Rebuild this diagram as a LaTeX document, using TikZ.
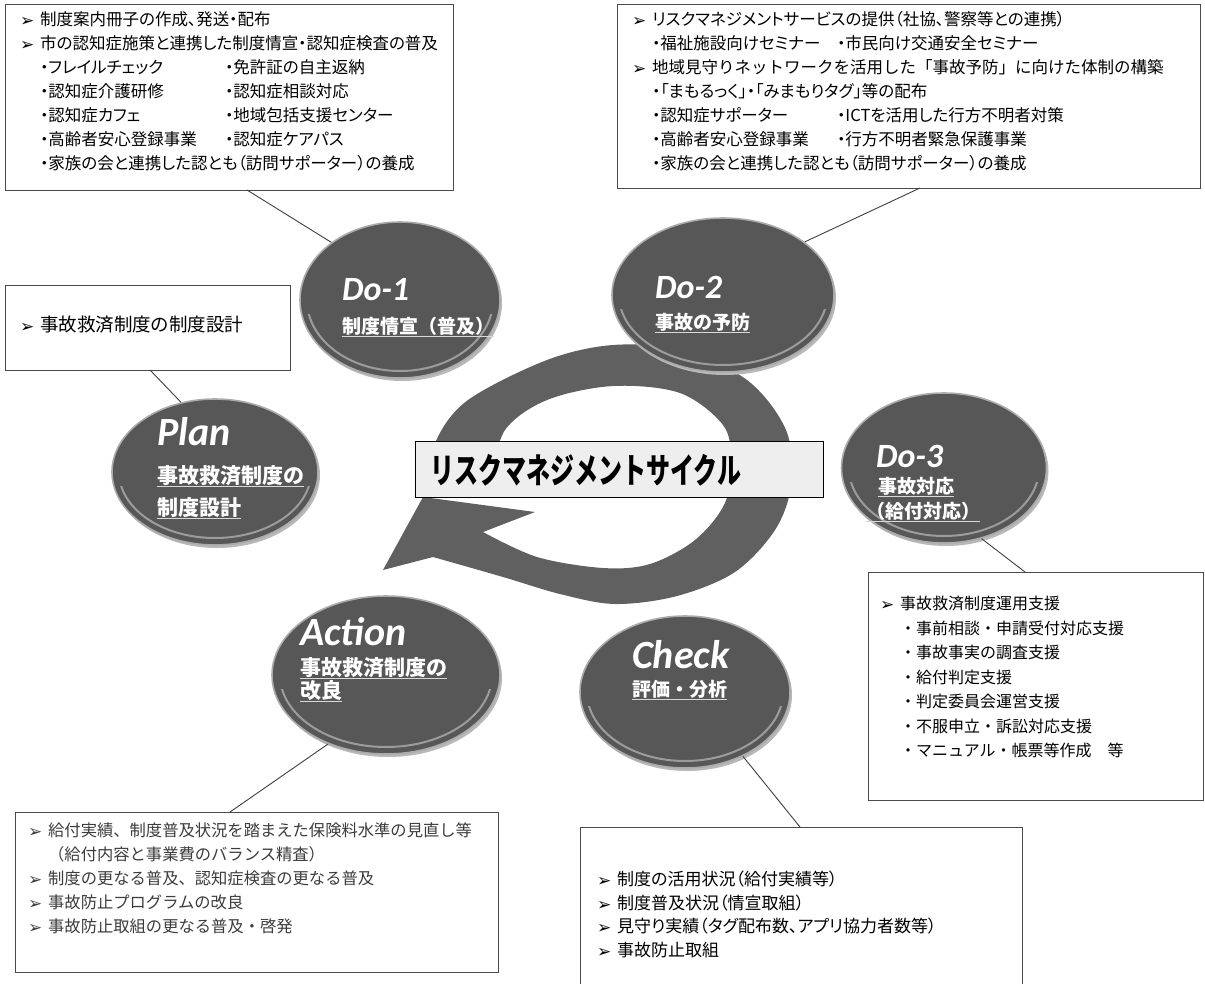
\documentclass[tikz,border=0pt]{standalone}
\usepackage{graphicx}
\usepackage{fontspec}
\setmainfont{Noto Sans CJK JP}[RawFeature=+palt]
\newfontfamily\jpfw{Noto Sans CJK JP}
\newfontfamily\latlab{Carlito}
\newfontfamily\dejavu{DejaVu Sans}
\usetikzlibrary{shapes.geometric,calc}
\definecolor{ellfill}{HTML}{575757}
\definecolor{ellrim}{HTML}{ABABAB}
\definecolor{ringfill}{HTML}{606060}
\definecolor{boxline}{HTML}{4A4A4A}
\definecolor{labelfill}{HTML}{EEEEEE}
\definecolor{fadedtext}{HTML}{3C3C3C}
\definecolor{glintcol}{HTML}{9C9C9C}
\newcommand{\mk}{\makebox[20pt][l]{\raisebox{-1pt}{\dejavu\fontsize{17}{17}\selectfont ➢}}}
\newcommand{\ind}{\hspace*{20pt}}
\newcommand{\glint}[3]{\begin{scope}\clip ($(#1.west)+(-3,14)$) rectangle ($(#1.south -| #1.east)+(3,4)$);
  \draw[glintline] (#1.center) ellipse [x radius=#2, y radius=#3];\end{scope}}
\begin{document}
\begin{tikzpicture}[x=1pt,y=-1pt,
  stage/.style={ellipse, fill=ellfill, draw=ellrim, line width=1.6pt, inner sep=0pt,
     preaction={fill=black!28, transform canvas={xshift=2pt,yshift=-3pt}}},
  glintline/.style={draw=glintcol, line width=2pt},
  infobox/.style={rectangle, draw=boxline, line width=1.2pt, fill=white, anchor=north west, inner sep=0pt},
  boxtext/.style={anchor=north west, inner sep=0pt, align=left, font=\fontsize{16.5}{24}\selectfont},
  stagelat/.style={anchor=base west, inner sep=0pt, text=white, font=\latlab\bfseries\itshape\fontsize{34}{34}\selectfont},
  stagebig/.style={stagelat, font=\latlab\bfseries\itshape\fontsize{40}{40}\selectfont},
  stagejp/.style={anchor=base west, inner sep=0pt, text=white, font=\jpfw\bfseries\fontsize{19}{19}\selectfont},
  stagejpbig/.style={stagejp, font=\jpfw\bfseries\fontsize{21}{21}\selectfont},
  link/.style={draw=black!75, line width=0.9pt},
  uline/.style={draw=white!85!black, line width=1pt}
]
\useasboundingbox (0,0) rectangle (1205,983);
\fill[white] (0,0) rectangle (1205,983);

% cycle arrow
\fill[ringfill] plot[smooth, tension=0.55] coordinates {(434,478) (436,441) (468,400) (547,360) (613,345) (680,350) (747,380) (786,430) (791,485) (775,530) (735,572) (677,596) (615,604) (560,594) (503,577) (433,557)}
  -- (383,570) -- (423,497) -- (535,512)
  -- plot[smooth, tension=0.55] coordinates {(483,532) (537,557) (603,568) (650,564) (695,540) (725,503) (731,460) (723,425) (680,393) (613,386) (547,400) (505,430) (492,478)} -- cycle;

% centre label
\node[rectangle, draw=black, line width=1.2pt, fill=labelfill, anchor=north west, minimum width=408pt, minimum height=56pt] (lab) at (415,441) {};
\node[anchor=base west, inner sep=0pt, font=\jpfw\bfseries\fontsize{24}{24}\selectfont] (labt) at (430,483) {\scalebox{1}[1.45]{リスクマネジメントサイクル}};

% stages
\node[stage, minimum width=200pt, minimum height=156pt] (d1) at (400,300) {};
\glint{d1}{93pt}{71pt}
\node[stagelat] (d1a) at (342,300) {Do-1};
\node[stagejp] (d1b) at (342,333) {制度情宣（普及）};
\draw[uline] ([yshift=-3pt]d1b.base west) -- ([yshift=-3pt]d1b.base east);

\node[stage, minimum width=222pt, minimum height=154pt] (d2) at (723,295) {};
\glint{d2}{104pt}{70pt}
\node[stagelat] (d2a) at (655,298) {Do-2};
\node[stagejp] (d2b) at (655,329) {事故の予防};
\draw[uline] ([yshift=-3pt]d2b.base west) -- ([yshift=-3pt]d2b.base east);

\node[stage, minimum width=206pt, minimum height=146pt] (pl) at (215,472) {};
\glint{pl}{96pt}{66pt}
\node[stagebig] (pla) at (157,445) {Plan};
\node[stagejpbig] (plb) at (157,483) {事故救済制度の};
\node[stagejpbig] (plc) at (157,515) {制度設計};
\draw[uline] ([yshift=-3pt]plb.base west) -- ([yshift=-3pt]plb.base east);
\draw[uline] ([yshift=-3pt]plc.base west) -- ([yshift=-3pt]plc.base east);

\node[stage, minimum width=205pt, minimum height=150pt] (d3) at (944,468) {};
\glint{d3}{95pt}{68pt}
\node[stagelat] (d3a) at (876,467) {Do-3};
\node[stagejp] (d3b) at (878,493) {事故対応};
\node[stagejp] (d3c) at (866,518) {（給付対応）};
\draw[uline] ([yshift=-3pt]d3b.base west) -- ([yshift=-3pt]d3b.base east);
\draw[uline] ([yshift=-3pt]d3c.base west) -- ([yshift=-3pt]d3c.base east);

\node[stage, minimum width=228pt, minimum height=158pt] (ac) at (386,675) {};
\glint{ac}{106pt}{72pt}
\node[stagebig] (aca) at (300,645) {Action};
\node[stagejpbig] (acb) at (300,675) {事故救済制度の};
\node[stagejpbig] (acc) at (300,698) {改良};
\draw[uline] ([yshift=-3pt]acb.base west) -- ([yshift=-3pt]acb.base east);
\draw[uline] ([yshift=-3pt]acc.base west) -- ([yshift=-3pt]acc.base east);

\node[stage, minimum width=210pt, minimum height=152pt] (ch) at (685,692) {};
\glint{ch}{98pt}{69pt}
\node[stagebig] (cha) at (632,668) {Check};
\node[stagejp] (chb) at (632,696) {評価・分析};
\draw[uline] ([yshift=-3pt]chb.base west) -- ([yshift=-3pt]chb.base east);

% boxes
\node[infobox, minimum width=448pt, minimum height=186pt] (b1) at (5,4) {};
\node[boxtext] (t1) at (20,11) {%
\mk 制度案内冊子の作成、発送・配布\\
\mk 市の認知症施策と連携した制度情宣・認知症検査の普及\\
\ind\makebox[185pt][l]{・フレイルチェック}・免許証の自主返納\\
\ind\makebox[185pt][l]{・認知症介護研修}・認知症相談対応\\
\ind\makebox[185pt][l]{・認知症カフェ}・地域包括支援センター\\
\ind\makebox[185pt][l]{・高齢者安心登録事業}・認知症ケアパス\\
\ind・家族の会と連携した認とも（訪問サポーター）の養成};

\node[infobox, minimum width=583pt, minimum height=184pt] (b2) at (617,4) {};
\node[boxtext] (t2) at (632,11) {%
\mk リスクマネジメントサービスの提供（社協、警察等との連携）\\
\ind\makebox[185pt][l]{・福祉施設向けセミナー}・市民向け交通安全セミナー\\
\mk {\jpfw 地域見守りネットワークを活用した「事故予防」に向けた体制の構築}\\
\ind・「まもるっく」・「みまもりタグ」等の配布\\
\ind\makebox[185pt][l]{・認知症サポーター}・ICTを活用した行方不明者対策\\
\ind\makebox[185pt][l]{・高齢者安心登録事業}・行方不明者緊急保護事業\\
\ind・家族の会と連携した認とも（訪問サポーター）の養成};

\node[infobox, minimum width=285pt, minimum height=85pt] (b3) at (5,285) {};
\node[boxtext, font=\fontsize{18.5}{24}\selectfont] (t3) at (20,316) {\mk 事故救済制度の制度設計};

\node[infobox, minimum width=335pt, minimum height=228pt] (b4) at (868,572) {};
\node[boxtext, font=\jpfw\fontsize{16}{24.5}\selectfont] (t4) at (880,596) {%
\mk 事故救済制度運用支援\\
\ind・事前相談・申請受付対応支援\\
\ind・事故事実の調査支援\\
\ind・給付判定支援\\
\ind・判定委員会運営支援\\
\ind・不服申立・訴訟対応支援\\
\ind・マニュアル・帳票等作成\hspace{16pt}等};

\node[infobox, minimum width=483pt, minimum height=160pt] (b5) at (15,812) {};
\node[boxtext, text=fadedtext, font=\jpfw\fontsize{16.3}{24}\selectfont] (t5) at (28,823) {%
\mk 給付実績、制度普及状況を踏まえた保険料水準の見直し等\\
\ind（給付内容と事業費のバランス精査）\\
\mk 制度の更なる普及、認知症検査の更なる普及\\
\mk 事故防止プログラムの改良\\
\mk 事故防止取組の更なる普及・啓発};

\node[infobox, minimum width=442pt, minimum height=170pt] (b6) at (580,827) {};
\node[boxtext, font=\fontsize{17}{23.5}\selectfont] (t6) at (597,871) {%
\mk 制度の活用状況（給付実績等）\\
\mk 制度普及状況（情宣取組）\\
\mk 見守り実績（タグ配布数、アプリ協力者数等）\\
\mk 事故防止取組};

% connectors
\coordinate (c1) at (247,190);
\coordinate (c2) at (920,188);
\coordinate (c3) at (150,370);
\coordinate (c4) at (1025,572);
\coordinate (c5) at (230,812);
\coordinate (c6) at (800,827);
\draw[link] (c1) -- (d1.140);
\draw[link] (c2) -- (d2.33);
\draw[link] (c3) -- (pl.116);
\draw[link] (c4) -- (d3.-62);
\draw[link] (c5) -- (ac.230);
\draw[link] (c6) -- (ch.-48);
\end{tikzpicture}
\end{document}
